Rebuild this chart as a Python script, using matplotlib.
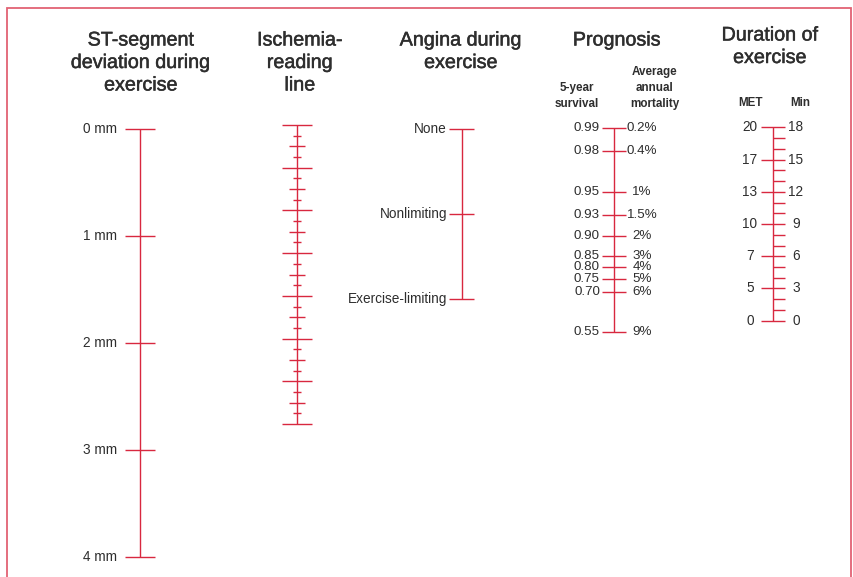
import numpy as np
import matplotlib
matplotlib.use("Agg")
import matplotlib.pyplot as plt
import matplotlib.patheffects as pe

plt.rcParams["font.family"] = ["Liberation Sans", "DejaVu Sans"]

RED = "#d8283f"
TXT = "#2e2e2e"

# --- data -------------------------------------------------------------
st_mm = [0, 1, 2, 3, 4]
st_labels = ["0 mm", "1 mm", "2 mm", "3 mm", "4 mm"]

isch_major = 7          # major divisions on the reading line
isch_sub = 4            # sub-divisions per major division

angina_labels = ["None", "Nonlimiting", "Exercise-limiting"]

survival = ["0.99", "0.98", "0.95", "0.93", "0.90", "0.85", "0.80", "0.75", "0.70", "0.55"]
mortality = ["0.2%", "0.4%", "1%", "1.5%", "2%", "3%", "4%", "5%", "6%", "9%"]
prog_pos = [0.0, 0.113, 0.316, 0.426, 0.528, 0.626, 0.68, 0.74, 0.806, 1.0]  # fraction along scale

minutes = list(range(0, 19))
min_labeled = [0, 3, 6, 9, 12, 15, 18]
met_labels = ["0", "5", "7", "10", "13", "17", "20"]

# --- figure in pixel coordinates ---------------------------------------
fig = plt.figure(figsize=(8.54, 5.77), dpi=100)
ax = fig.add_axes([0, 0, 1, 1])
ax.set_xlim(0, 854); ax.set_ylim(577, 0); ax.axis("off")

# frame (bottom runs off the page)
ax.plot([7, 7, 851, 851], [600, 8, 8, 600], color="#e26274", lw=1.3, solid_joinstyle="miter")

LW = 1.0
def vline(x, y0, y1):
    ax.plot([x, x], [y0, y1], color=RED, lw=LW, solid_capstyle="butt")
def tick(x, y, l, r):
    ax.plot([x - l, x + r], [y, y], color=RED, lw=LW, solid_capstyle="butt")

TFS, LFS = 14.2, 9.8
heavy = [pe.withStroke(linewidth=0.35, foreground=TXT)]
def title_lines(x, y0, s, step=22.5):
    for i, line in enumerate(s.split("\n")):
        ax.text(x, y0 + i * step, line, ha="center", va="center", fontsize=TFS,
                color=TXT, path_effects=heavy)

# ST-segment deviation
x_st = 140
st_y = lambda v: 129 + v * 107
vline(x_st, st_y(st_mm[0]), st_y(st_mm[-1]))
for v, lab in zip(st_mm, st_labels):
    tick(x_st, st_y(v), 15, 15)
    ax.text(117, st_y(v), lab, ha="right", va="center", fontsize=LFS, color=TXT)
title_lines(141, 40, "ST-segment\ndeviation during\nexercise")

# Ischemia reading line
x_is = 297
n = isch_major * isch_sub
ys = np.linspace(125, 424, n + 1)
vline(x_is, ys[0], ys[-1])
for i, y in enumerate(ys):
    k = i % isch_sub
    half = 15 if k == 0 else (8 if k == isch_sub // 2 else 4)
    tick(x_is, y, half, half)
title_lines(300, 40, "Ischemia-\nreading\nline")

# Angina during exercise
x_an = 462
an_y = lambda i: 129 + i * 85
vline(x_an, an_y(0), an_y(len(angina_labels) - 1))
for i, lab in enumerate(angina_labels):
    tick(x_an, an_y(i), 13, 12)
    ax.text(447, an_y(i), lab, ha="right", va="center", fontsize=LFS, color=TXT)
title_lines(461, 40, "Angina during\nexercise")

# Prognosis
x_pr = 614
pr_y = lambda p: 128 + p * 204
vline(x_pr, pr_y(prog_pos[0]), pr_y(prog_pos[-1]))
PFS = 9.6
for p, s, m in zip(prog_pos, survival, mortality):
    y = pr_y(p)
    tick(x_pr, y, 12, 12)
    ax.text(600, y, s, ha="right", va="center", fontsize=PFS, color=TXT)
    ax.text(642, y, m, ha="center", va="center", fontsize=PFS, color=TXT)
title_lines(617, 40, "Prognosis")
SUB = dict(fontsize=8.4, fontweight="bold", color=TXT,
           family=["Liberation Sans Narrow", "Liberation Sans", "DejaVu Sans"])
for i, line in enumerate(["5-year", "survival"]):
    ax.text(577, 88 + i * 16, line, ha="center", va="center", **SUB)
for i, line in enumerate(["Average", "annual", "mortality"]):
    ax.text(655, 72 + i * 16, line, ha="center", va="center", **SUB)

# Duration of exercise
x_du = 773
du_y = lambda m: 320.7 - m * 10.74
vline(x_du, du_y(minutes[0]), du_y(minutes[-1]))
for m in minutes:
    if m in min_labeled:
        tick(x_du, du_y(m), 12, 12)
    else:
        tick(x_du, du_y(m), 0, 12)
for m, met in zip(min_labeled, met_labels):
    ax.text(750, du_y(m), met, ha="center", va="center", fontsize=LFS, color=TXT)
    ax.text(796, du_y(m), str(m), ha="center", va="center", fontsize=LFS, color=TXT)
title_lines(770, 35, "Duration of\nexercise")
ax.text(751, 103, "MET", ha="center", va="center", **SUB)
ax.text(800, 103, "Min", ha="center", va="center", **SUB)

fig.savefig("out.png", dpi=100)
